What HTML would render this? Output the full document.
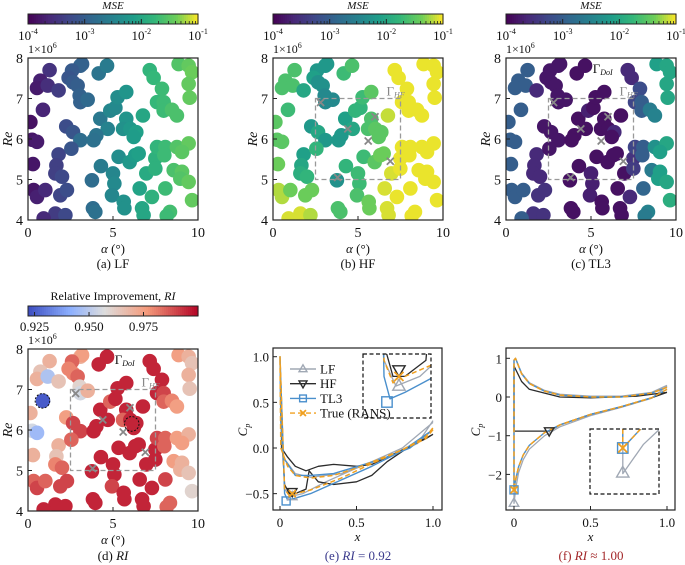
<!DOCTYPE html>
<html><head><meta charset="utf-8"><style>
html,body{margin:0;padding:0;background:#fff;}
svg{display:block;}
svg text{font-family:"Liberation Serif","DejaVu Serif",serif;}
</style></head><body>
<svg id="fig" width="685" height="565" viewBox="0 0 685 565" xmlns="http://www.w3.org/2000/svg" font-family="Liberation Serif, DejaVu Serif, serif"></svg>
<script>
// ---- scatter data: alpha (deg), Re (x1e6) ----
const alphaVals=[1.27,0.73,0.53,1.16,1.8,0.88,0.14,0.24,0.53,0.29,1.8,1.67,1.61,2.0,0.33,0.53,1.02,1.9,2.29,1.61,2.2,0.92,3.08,3.18,2.59,2.39,2.65,2.92,3.04,3.08,3.51,2.25,2.65,3.08,2.55,4.16,4.65,4.25,4.69,4.02,3.86,4.29,3.76,5.0,5.08,4.94,3.82,3.96,5.63,5.67,4.84,5.14,5.27,5.78,5.78,5.59,6.02,6.37,6.22,5.33,5.98,6.31,6.51,6.76,6.96,6.57,6.71,6.8,7.16,7.39,7.88,7.59,7.98,7.98,8.47,8.76,7.49,7.59,8.08,8.02,7.49,8.08,7.29,8.35,8.16,8.86,9.45,9.65,9.45,9.51,8.76,9.45,9.06,8.57,9.06,8.96,9.45,9.65];
const reVals=[7.7,7.44,7.26,7.32,7.2,6.72,6.42,5.98,5.93,5.38,5.62,5.35,5.15,5.07,4.74,4.57,4.74,4.61,4.74,4.16,4.12,4.04,7.81,7.85,7.69,7.51,7.4,7.32,7.07,6.91,6.97,6.31,6.17,5.97,5.76,7.62,7.81,6.5,6.25,6.09,5.97,5.33,4.98,5.15,4.9,4.61,4.29,4.2,4.45,4.29,6.7,6.77,7.03,7.16,6.5,6.25,6.25,6.17,6.05,5.56,5.43,5.6,5.64,6.58,5.15,4.78,4.29,4.12,7.7,7.51,7.24,6.91,6.91,6.7,6.72,6.58,5.52,5.8,5.8,5.6,5.27,4.78,4.57,4.2,4.1,7.85,7.81,7.65,7.36,7.02,5.8,5.89,5.68,5.23,5.19,5.02,4.94,4.49];
// log10(MSE)
const logMseLF=[-3.5,-3.7,-3.75,-3.55,-3.4,-3.65,-3.85,-3.8,-3.75,-3.8,-3.3,-3.35,-3.35,-3.25,-3.8,-3.7,-3.6,-3.3,-3.2,-3.4,-3.25,-3.6,-2.95,-2.95,-3.05,-3.1,-3.05,-3.0,-2.95,-2.95,-2.85,-3.2,-3.1,-2.8,-3.1,-2.7,-2.6,-2.65,-2.5,-2.7,-2.75,-2.6,-2.8,-2.45,-2.4,-2.45,-2.8,-2.75,-2.3,-2.3,-2.45,-2.4,-2.35,-2.25,-2.25,-2.3,-2.2,-2.1,-2.15,-2.35,-2.2,-2.15,-2.1,-2.0,-1.95,-2.05,-2.0,-2.0,-1.8,-1.75,-1.7,-1.75,-1.7,-1.7,-1.6,-1.6,-1.85,-1.8,-1.7,-1.7,-1.85,-1.7,-1.85,-1.65,-1.7,-1.55,-1.45,-1.4,-1.45,-1.45,-1.55,-1.45,-1.5,-1.6,-1.5,-1.55,-1.45,-1.45];
const logMseHF=[-1.6,-1.6,-1.6,-1.6,-2.0,-1.7,-1.5,-1.5,-1.5,-1.4,-2.1,-2.0,-1.9,-1.8,-1.2,-1.2,-1.4,-1.4,-1.4,-1.1,-1.2,-1.1,-2.2,-2.2,-2.2,-2.1,-2.3,-2.3,-2.4,-2.4,-2.4,-2.2,-2.0,-2.2,-1.8,-1.7,-1.6,-2.1,-2.0,-2.2,-2.2,-1.8,-2.3,-1.7,-1.7,-1.6,-1.6,-1.6,-1.4,-1.4,-1.8,-1.8,-1.7,-1.5,-1.6,-1.6,-1.5,-1.5,-1.5,-1.7,-1.5,-1.4,-1.4,-1.15,-1.1,-1.1,-1.1,-1.1,-1.05,-1.05,-1.05,-1.05,-1.05,-1.05,-1.05,-1.05,-1.05,-1.05,-1.05,-1.05,-1.05,-1.05,-1.05,-1.05,-1.05,-1.05,-1.05,-1.05,-1.05,-1.05,-1.05,-1.05,-1.05,-1.05,-1.05,-1.05,-1.05,-1.05];
const logMseTL3=[-3.0,-3.0,-3.0,-3.0,-3.6,-3.0,-3.0,-3.0,-3.0,-3.0,-3.6,-3.6,-3.6,-3.6,-3.0,-3.0,-3.0,-3.5,-3.5,-3.5,-3.5,-3.0,-3.8,-3.8,-3.8,-3.8,-3.8,-3.8,-3.8,-3.8,-3.8,-3.8,-3.8,-3.8,-3.8,-3.85,-3.85,-3.85,-3.85,-3.85,-3.85,-3.85,-3.85,-3.7,-3.7,-3.7,-3.85,-3.85,-3.85,-3.85,-3.7,-3.85,-3.85,-3.85,-3.85,-3.85,-3.85,-3.6,-3.85,-3.85,-3.85,-3.85,-3.85,-3.85,-3.85,-3.85,-3.85,-3.85,-3.6,-3.6,-3.2,-3.3,-3.0,-3.0,-2.6,-2.5,-3.5,-3.3,-3.0,-3.0,-3.4,-2.9,-3.6,-2.5,-2.6,-2.1,-2.0,-2.0,-2.0,-2.0,-2.3,-2.0,-2.1,-2.6,-2.1,-2.1,-2.0,-1.9];
const riVals=[0.97,0.965,0.97,0.948,0.965,0.925,0.97,0.955,0.945,0.97,0.97,0.965,0.98,0.985,0.985,0.99,0.985,0.99,0.99,0.995,0.995,0.995,0.97,0.975,0.985,0.98,0.98,0.985,0.96,0.955,0.97,0.975,0.99,0.99,0.985,0.995,0.995,0.995,0.995,0.995,0.995,0.995,0.995,0.995,0.995,0.99,0.995,0.995,0.995,0.995,0.985,0.995,0.995,0.995,0.995,0.985,0.995,0.995,0.995,0.995,0.995,0.995,0.995,0.995,0.995,0.995,0.995,0.995,0.995,0.995,0.995,0.995,0.99,0.985,0.98,0.975,0.995,0.99,0.985,0.985,0.995,0.99,0.995,0.985,0.985,0.975,0.97,0.965,0.97,0.965,0.975,0.97,0.975,0.975,0.97,0.97,0.965,0.96];
const hfAlpha=[2.8,4.4,5.6,6.0,6.9,3.8];
const hfRe=[6.9,6.25,5.95,6.55,5.45,5.05];
const boxHF=[2.5,7.5,5,7];
const hiAlpha=[0.85,6.1];
const hiRe=[6.72,6.15];
const xTicksA=[0,5,10], yTicksRe=[4,5,6,7,8];
const cbMseTicks=[-4,-3,-2,-1];
const cbRiTicks=[0.925,0.95,0.975];

// ---- Cp data (e) ----
const eLFx=[1.0,0.8,0.6,0.4,0.2,0.1,0.02,0.005,0,0.03,0.07,0.15,0.3,0.5,0.7,0.9,1.0];
const eLFy=[0.28,0,-0.15,-0.28,-0.32,-0.28,-0.1,0.3,1.0,-0.45,-0.53,-0.5,-0.37,-0.22,-0.1,0.05,0.3];
const eHFx=[1.0,0.95,0.85,0.8,0.6,0.5,0.35,0.25,0.17,0.1,0.05,0.01,0.01,0.03,0.06,0.1,0.17,0.19,0.25,0.35,0.5,0.6,0.7,0.85,1.0];
const eHFy=[0.15,0.1,0.02,-0.02,-0.18,-0.2,-0.18,-0.2,-0.25,-0.2,-0.1,0,0.2,-0.4,-0.5,-0.5,-0.45,-0.25,-0.37,-0.4,-0.37,-0.3,-0.15,0.02,0.15];
const eTLx=[1.0,0.85,0.7,0.55,0.35,0.2,0.1,0.02,0.005,0,0.03,0.05,0.1,0.2,0.4,0.6,0.8,1.0];
const eTLy=[0.2,0,-0.1,-0.18,-0.28,-0.3,-0.3,-0.1,0.3,1.0,-0.5,-0.57,-0.55,-0.5,-0.35,-0.2,-0.03,0.2];
const eTRx=[1.0,0.95,0.8,0.65,0.5,0.35,0.2,0.1,0.05,0.005,0,0.03,0.06,0.1,0.2,0.4,0.6,0.8,0.95,1.0];
const eTRy=[0.2,0.1,-0.02,-0.12,-0.22,-0.3,-0.33,-0.3,-0.2,0,1.0,-0.45,-0.52,-0.5,-0.46,-0.33,-0.17,-0.02,0.12,0.22];
const eMarkLF=[0.08,-0.53], eMarkHF=[0.08,-0.48], eMarkTL=[0.04,-0.58], eMarkTR=[0.08,-0.5];
const eXTicks=[0,0.5,1.0], eYTicks=[-0.5,0,0.5,1.0];
// ---- Cp data (f) ----
const fLFx=[1.0,0.9,0.7,0.5,0.3,0.2,0.1,0.05,0.01,0,0,0.012,0.03,0.06,0.1,0.2,0.3,0.5,0.7,0.9,1.0];
const fLFy=[0.3,0.12,0.02,0.02,0.07,0.17,0.37,0.62,1.0,0.95,-2.75,-2.35,-1.95,-1.62,-1.35,-1.0,-0.77,-0.48,-0.27,-0.03,0.28];
const fHFx=[1.0,0.8,0.5,0.3,0.2,0.1,0.05,0,0,0.23,0.3,0.5,0.7,0.9,1.0];
const fHFy=[0.12,0.02,-0.02,0,0.1,0.2,0.4,0.8,-0.88,-0.88,-0.72,-0.45,-0.25,-0.02,0.12];
const fTLx=[1.0,0.9,0.7,0.5,0.3,0.2,0.1,0.05,0.01,0,0,0.01,0.03,0.06,0.1,0.2,0.3,0.5,0.7,0.9,1.0];
const fTLy=[0.25,0.1,0,0,0.05,0.15,0.35,0.6,1.0,0.95,-2.4,-2.15,-1.8,-1.5,-1.25,-0.92,-0.72,-0.45,-0.25,-0.02,0.2];
const fTRx=fTLx.slice(), fTRy=fTLy.slice();
const fMarkLF=[0,-2.74], fMarkHF=[0.23,-0.88], fMarkTL=[0,-2.4], fMarkTR=[0,-2.4];
const fXTicks=[0,0.5,1.0], fYTicks=[-2,-1,0,1];

const NS="http://www.w3.org/2000/svg";
const FONT='Liberation Serif, DejaVu Serif, serif';
const svg=document.getElementById('fig');
function el(tag,attrs,parent){const e=document.createElementNS(NS,tag);for(const k in attrs)e.setAttribute(k,attrs[k]);(parent||svg).appendChild(e);return e;}
function txt(s,x,y,size,anchor,parent,extra){const t=el('text',Object.assign({x:x,y:y,'font-size':size,'font-family':FONT,'text-anchor':anchor||'middle',fill:'#111'},extra||{}),parent);t.textContent=s;return t;}
function lin(d0,d1,r0,r1){return v=>r0+(v-d0)/(d1-d0)*(r1-r0);}
function lerpStops(stops,t){t=Math.max(0,Math.min(1,t));for(let i=1;i<stops.length;i++){if(t<=stops[i][0]){const a=stops[i-1],b=stops[i],u=(t-a[0])/(b[0]-a[0]);return 'rgb('+[1,2,3].map(j=>Math.round(a[j]+(b[j]-a[j])*u)).join(',')+')';}}const l=stops[stops.length-1];return 'rgb('+l[1]+','+l[2]+','+l[3]+')';}
const VIR=[[0,68,1,84],[0.125,72,40,120],[0.25,62,73,137],[0.375,49,104,142],[0.5,38,130,142],[0.625,31,158,137],[0.75,53,183,121],[0.875,110,206,88],[1,253,231,37]];
const CW=[[0,59,76,192],[0.25,141,176,254],[0.45,221,221,221],[0.7,244,154,123],[1,180,4,38]];
const vir=v=>lerpStops(VIR,(v+4)/3);
const cw=v=>lerpStops(CW,(v-0.922)/(1.0-0.922));

function colorbar(x0,x1,y0,y1,fn,d0,d1,name){
  const g=el('g',{});
  
  
  const n=85;for(let i=0;i<n;i++){const v=d0+(d1-d0)*(i+0.5)/n;el('rect',{x:x0+(x1-x0)*i/n,y:y0,width:(x1-x0)/n+0.6,height:y1-y0,fill:fn(v)},g);}
  el('rect',{x:x0,y:y0,width:x1-x0,height:y1-y0,fill:'none',stroke:'#222','stroke-width':1},g);
  return g;
}
function scatterPanel(ox,oy,vals,cfn,opts){
  const W=170,H=162;
  const g=el('g',{});
  
  
  const sx=lin(0,10,ox,ox+W), sy=lin(4,8,oy+H,oy);
  const cid='clip'+opts.name;
  const cp=el('clipPath',{id:cid},g);el('rect',{x:ox,y:oy,width:W,height:H},cp);
  const pts=el('g',{'clip-path':'url(#'+cid+')'},g);
  for(let i=0;i<alphaVals.length;i++){
    const c=el('circle',{cx:sx(alphaVals[i]),cy:sy(reVals[i]),r:7.3,fill:cfn(vals[i])},pts);
    
    
  }
  if(opts.hf){
    const b=el('rect',{x:sx(boxHF[0]),y:sy(boxHF[3]),width:sx(boxHF[1])-sx(boxHF[0]),height:sy(boxHF[2])-sy(boxHF[3]),fill:'none',stroke:'#999','stroke-width':1.3,'stroke-dasharray':'5,3'},g);
    
    
    for(let i=0;i<hfAlpha.length;i++){const x=sx(hfAlpha[i]),y=sy(hfRe[i]);
      const m=el('path',{d:`M${x-3.5},${y-3.5}L${x+3.5},${y+3.5}M${x-3.5},${y+3.5}L${x+3.5},${y-3.5}`,stroke:'#888','stroke-width':1.8},g);
      
      }
    const t=txt('Γ',sx(boxHF[1])-14,sy(boxHF[3])-3,13,'start',g,{fill:'#888'});
    const ts=el('tspan',{'font-size':8,'font-style':'italic',dy:2},t);ts.textContent='HF';
  }
  if(opts.doi){const t=txt('Γ',sx(5.1),oy+15,13,'start',g);const ts=el('tspan',{'font-size':8,'font-style':'italic',dy:2},t);ts.textContent='DoI';}
  if(opts.hi){for(let i=0;i<hiAlpha.length;i++){const c=el('circle',{cx:sx(hiAlpha[i]),cy:sy(hiRe[i]),r:7.3,fill:'none',stroke:'#111','stroke-width':1,'stroke-dasharray':'2,1.5'},g);
    
    }}
  el('rect',{x:ox,y:oy,width:W,height:H,fill:'none',stroke:'#222','stroke-width':1.2},g);
  xTicksA.forEach(v=>{el('line',{x1:sx(v),x2:sx(v),y1:oy+H,y2:oy+H-4,stroke:'#222'},g);txt(String(v),sx(v),oy+H+17,14,'middle',g);});
  yTicksRe.forEach(v=>{el('line',{x1:ox,x2:ox+4,y1:sy(v),y2:sy(v),stroke:'#222'},g);txt(String(v),ox-5,sy(v)+5,14,'end',g);});
  const e6=txt('1×10',ox,oy-5,12,'start',g);const s6=el('tspan',{'font-size':8,dy:-5},e6);s6.textContent='6';
  const xl=txt('',ox+W/2,oy+H+33,13,'middle',g);const a1=el('tspan',{'font-style':'italic'},xl);a1.textContent='α';const a2=el('tspan',{},xl);a2.textContent=' (°)';
  txt('Re',ox-16,oy+H/2,14,'middle',g,{'font-style':'italic',transform:`rotate(-90 ${ox-16} ${oy+H/2})`});
  return g;
}
function mseBar(ox){
  const x0=ox,x1=ox+170;
  const g=colorbar(x0,x1,14,24,vir,-4,-1,'mse-colorbar');
  const s=lin(-4,-1,x0,x1);
  for(let d=-4;d<-1;d++)for(let k=2;k<10;k++){const x=s(d+Math.log10(k));el('line',{x1:x,x2:x,y1:24,y2:21,stroke:'#222','stroke-width':0.8},g);}
  cbMseTicks.forEach(v=>{el('line',{x1:s(v),x2:s(v),y1:24,y2:19,stroke:'#222'},g);const t=txt('10',s(v),40,13,'middle',g);const sp=el('tspan',{'font-size':8,dy:-6},t);sp.textContent=String(v);});
  txt('MSE',(x0+x1)/2,9,11,'middle',g,{'font-style':'italic'});
}
// top row
[28,273,506].forEach(o=>mseBar(o));
scatterPanel(28,58,logMseLF,vir,{name:'panel-a-lf'});
scatterPanel(273,58,logMseHF,vir,{name:'panel-b-hf',hf:true});
scatterPanel(506,58,logMseTL3,vir,{name:'panel-c-tl3',hf:true,doi:true});
[['(a) LF',113],['(b) HF',358],['(c) TL3',591]].forEach(c=>{const t=txt(c[0],c[1],268,13,'middle');});
// RI panel
(function(){const g=colorbar(28,198,306,316,cw,0.922,1.0,'ri-colorbar');const s=lin(0.922,1.0,28,198);
  cbRiTicks.forEach(v=>{el('line',{x1:s(v),x2:s(v),y1:316,y2:312,stroke:'#222'},g);txt(v.toFixed(3),s(v),331,13,'middle',g);});
  const t=txt('Relative Improvement, ',113,300,12,'middle',g);const sp=el('tspan',{'font-style':'italic'},t);sp.textContent='RI';})();
scatterPanel(28,349,riVals,cw,{name:'panel-d-ri',hf:true,doi:true,hi:true});
(function(){const t=txt('(d) ',113,560,13,'middle');const sp=el('tspan',{'font-style':'italic'},t);sp.textContent='RI';})();

function cpPanel(o){
  const g=el('g',{});
  
  
  const sx=lin(0,1,o.x0,o.x1), sy=lin(o.yd[0],o.yd[1],o.yr[0],o.yr[1]);
  const cid='clip'+o.name;const cp=el('clipPath',{id:cid},g);el('rect',{x:o.L,y:348,width:o.R-o.L,height:162},cp);
  const pg=el('g',{'clip-path':'url(#'+cid+')'},g);
  function series(gg,sxf,syf,xs,ys,col,w,dash,name){const d=xs.map((x,i)=>(i?'L':'M')+sxf(x).toFixed(1)+','+syf(ys[i]).toFixed(1)).join('');
    const p=el('path',{d:d,fill:'none',stroke:col,'stroke-width':w,'stroke-dasharray':dash||'none','stroke-linejoin':'round'},gg);
    
    }
  function marker(gg,type,x,y,col,s){
    if(type==='tri')el('path',{d:`M${x},${y-s}L${x+s*0.95},${y+s*0.65}L${x-s*0.95},${y+s*0.65}Z`,fill:'none',stroke:col,'stroke-width':1.4},gg);
    if(type==='dtri')el('path',{d:`M${x},${y+s}L${x+s*0.95},${y-s*0.65}L${x-s*0.95},${y-s*0.65}Z`,fill:'none',stroke:col,'stroke-width':1.4},gg);
    if(type==='sq')el('rect',{x:x-s*0.8,y:y-s*0.8,width:s*1.6,height:s*1.6,fill:'none',stroke:col,'stroke-width':1.4},gg);
    if(type==='x')el('path',{d:`M${x-s*0.7},${y-s*0.7}L${x+s*0.7},${y+s*0.7}M${x-s*0.7},${y+s*0.7}L${x+s*0.7},${y-s*0.7}`,stroke:col,'stroke-width':1.8},gg);
  }
  function drawAll(gg,sxf,syf,ms){
    series(gg,sxf,syf,o.lf[0],o.lf[1],'#a0a8b4',1.3,null,'lf-curve');
    series(gg,sxf,syf,o.hf[0],o.hf[1],'#2b2b2b',1.3,null,'hf-curve');
    series(gg,sxf,syf,o.tl[0],o.tl[1],'#4a8fcc',1.4,null,'tl3-curve');
    series(gg,sxf,syf,o.tr[0],o.tr[1],'#f0a020',1.5,'5,3','true-rans-curve');
    marker(gg,'tri',sxf(o.mLF[0]),syf(o.mLF[1]),'#a0a8b4',ms);
    marker(gg,'dtri',sxf(o.mHF[0]),syf(o.mHF[1]),'#2b2b2b',ms);
    marker(gg,'sq',sxf(o.mTL[0]),syf(o.mTL[1]),'#4a8fcc',ms);
    marker(gg,'x',sxf(o.mTR[0]),syf(o.mTR[1]),'#f0a020',ms);
  }
  drawAll(pg,sx,sy,5);
  const ins=o.inset;const icid='iclip'+o.name;const ic=el('clipPath',{id:icid},g);el('rect',{x:ins.x0,y:ins.y0,width:ins.x1-ins.x0,height:ins.y1-ins.y0},ic);
  el('rect',{x:ins.x0,y:ins.y0,width:ins.x1-ins.x0,height:ins.y1-ins.y0,fill:'#fff'},g);
  const ig=el('g',{'clip-path':'url(#'+icid+')'},g);
  drawAll(ig,lin(ins.xd[0],ins.xd[1],ins.x0,ins.x1),lin(ins.yd[0],ins.yd[1],ins.y1,ins.y0),6.5);
  const ib=el('rect',{x:ins.x0,y:ins.y0,width:ins.x1-ins.x0,height:ins.y1-ins.y0,fill:'none',stroke:'#111','stroke-width':1.2,'stroke-dasharray':'4,2.5'},g);
  
  
  el('rect',{x:o.L,y:348,width:o.R-o.L,height:162,fill:'none',stroke:'#222','stroke-width':1.2},g);
  o.xt.forEach(v=>{el('line',{x1:sx(v),x2:sx(v),y1:510,y2:506,stroke:'#222'},g);txt(v===0?'0':v.toFixed(1),sx(v),527,13,'middle',g);});
  o.yt.forEach(v=>{el('line',{x1:o.L,x2:o.L+4,y1:sy(v),y2:sy(v),stroke:'#222'},g);txt(v<0?'−'+Math.abs(v).toFixed(o.dec):v.toFixed(o.dec),o.L-4,sy(v)+5,13,'end',g);});
  txt('x',(o.L+o.R)/2,541,13,'middle',g,{'font-style':'italic'});
  const cpT=txt('C',o.cpx,430,13,'middle',g,{'font-style':'italic',transform:`rotate(-90 ${o.cpx} 430)`});const cs=el('tspan',{'font-size':8,dy:3},cpT);cs.textContent='p';
  return {g:g,marker:marker};
}
const pe=cpPanel({name:'panel-e-cp',L:273,R:442,x0:280,x1:433,yd:[0,1],yr:[448,356.7],
  lf:[eLFx,eLFy],hf:[eHFx,eHFy],tl:[eTLx,eTLy],tr:[eTRx,eTRy],mLF:eMarkLF,mHF:eMarkHF,mTL:eMarkTL,mTR:eMarkTR,
  xt:eXTicks,yt:eYTicks,dec:1,cpx:247,
  inset:{x0:363,x1:431,y0:354,y1:418,xd:[-0.04,0.187],yd:[-0.63,-0.43]}});
(function(){const g=el('g',{});
  
  
  const items=[['LF','#a0a8b4','tri',null],['HF','#2b2b2b','dtri',null],['TL3','#4a8fcc','sq',null],['True (RANS)','#f0a020','x','5,3']];
  items.forEach((it,i)=>{const y=369+i*14.7;
    el('line',{x1:290,x2:316,y1:y,y2:y,stroke:it[1],'stroke-width':1.4,'stroke-dasharray':it[3]||'none'},g);
    pe.marker(g,it[2],303,y,it[1],4.2);
    txt(it[0],320,y+4.5,13,'start',g);});})();
const pf=cpPanel({name:'panel-f-cp',L:506,R:675,x0:514,x1:667,yd:[0,1],yr:[397,358.3],
  lf:[fLFx,fLFy],hf:[fHFx,fHFy],tl:[fTLx,fTLy],tr:[fTRx,fTRy],mLF:fMarkLF,mHF:fMarkHF,mTL:fMarkTL,mTR:fMarkTR,
  xt:fXTicks,yt:fYTicks,dec:0,cpx:480,
  inset:{x0:590,x1:659,y0:429,y1:494,xd:[-0.019,0.021],yd:[-3.03,-2.14]}});
(function(){const t=txt('(e) ',358,560,13,'middle',null,{fill:'#3a3a8c'});const s=el('tspan',{'font-style':'italic'},t);s.textContent='RI';const s2=el('tspan',{},t);s2.textContent=' = 0.92';
  const t2=txt('(f) ',591,560,13,'middle',null,{fill:'#a3282a'});const s3=el('tspan',{'font-style':'italic'},t2);s3.textContent='RI';const s4=el('tspan',{},t2);s4.textContent=' ≈ 1.00';})();
</script>
</body></html>
